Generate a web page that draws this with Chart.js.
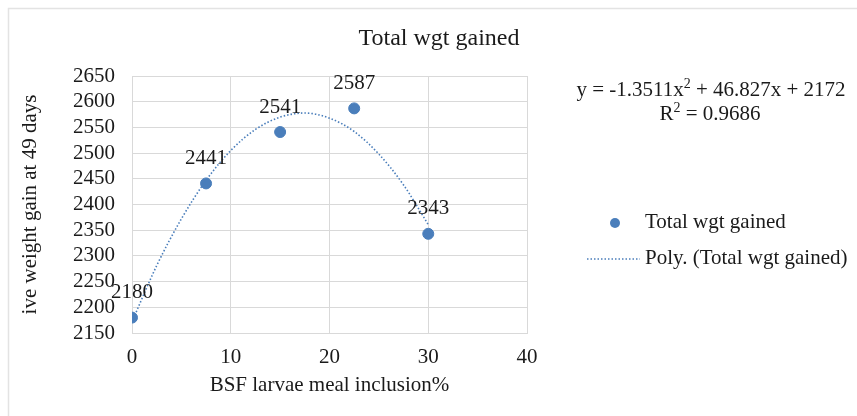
<!DOCTYPE html>
<html>
<head>
<meta charset="utf-8">
<script src="https://cdn.jsdelivr.net/npm/chart.js@4/dist/chart.umd.min.js"></script>
<style>
  html, body { margin: 0; padding: 0; background: #ffffff; }
  #wrap { width: 857px; height: 416px; position: relative; }
</style>
</head>
<body>
<div id="wrap"><canvas id="c" width="857" height="416"></canvas></div>
<script>
// ---- Data ----
const inclusionPct = [0, 7.5, 15, 22.5, 30];
const totalWgtGained = [2180, 2441, 2541, 2587, 2343];

// Polynomial trendline, values
const trendX = [0, 2.5, 5, 7.5, 10, 12.5, 15, 17.5, 20, 22.5, 25, 27.5, 30];
const trendY = [2172, 2281, 2372, 2447, 2505, 2546, 2570, 2578, 2568, 2542, 2498, 2438, 2361];

const xTicks = [0, 10, 20, 30, 40];
const yTicks = [2150, 2200, 2250, 2300, 2350, 2400, 2450, 2500, 2550, 2600, 2650];

const chartTitle = 'Total wgt gained';
const xTitle = 'BSF larvae meal inclusion%';
const yTitle = 'ive weight gain at 49 days';
const seriesName = 'Total wgt gained';
const trendName = 'Poly. (Total wgt gained)';
const eqParts = ['y = -1.3511x', '2', ' + 46.827x + 2172'];
const r2Parts = ['R', '2', ' = 0.9686'];

const FONT = '"Liberation Serif", "Times New Roman", serif';
const BLUE = '#4a7ebb';
const TEXT = '#1a1a1a';
const GRID = '#d9d9d9';

const pointData = inclusionPct.map((x, i) => ({ x, y: totalWgtGained[i] }));
const trendData = trendX.map((x, i) => ({ x, y: trendY[i] }));

const extrasPlugin = {
  id: 'extras',
  beforeDraw(chart) {
    const ctx = chart.ctx;
    ctx.save();
    ctx.strokeStyle = '#e3e3e3';
    ctx.lineWidth = 1.5;
    ctx.beginPath();
    ctx.moveTo(8.5, 416);
    ctx.lineTo(8.5, 8.5);
    ctx.lineTo(857, 8.5);
    ctx.stroke();
    ctx.restore();
  },
  afterDatasetsDraw(chart) {
    const ctx = chart.ctx;
    const meta = chart.getDatasetMeta(1);
    ctx.save();
    // chart title
    ctx.font = '24px ' + FONT;
    ctx.fillStyle = TEXT;
    ctx.textAlign = 'center';
    ctx.textBaseline = 'middle';
    ctx.fillText(chartTitle, 439, 39);

    // data labels
    ctx.font = '21px ' + FONT;
    meta.data.forEach((el, i) => {
      ctx.fillText(String(totalWgtGained[i]), el.x, el.y - 25);
    });

    // Equation
    const drawSup = (parts, cx, cy) => {
      ctx.textAlign = 'left';
      ctx.font = '21px ' + FONT;
      const w0 = ctx.measureText(parts[0]).width;
      const w2 = ctx.measureText(parts[2]).width;
      ctx.font = '14px ' + FONT;
      const w1 = ctx.measureText(parts[1]).width;
      let x = cx - (w0 + w1 + w2) / 2;
      ctx.font = '21px ' + FONT;
      ctx.fillText(parts[0], x, cy);
      x += w0;
      ctx.font = '14px ' + FONT;
      ctx.fillText(parts[1], x, cy - 6);
      x += w1;
      ctx.font = '21px ' + FONT;
      ctx.fillText(parts[2], x, cy);
    };
    drawSup(eqParts, 711, 90);
    drawSup(r2Parts, 710, 114);

    // Legend
    ctx.fillStyle = BLUE;
    ctx.beginPath();
    ctx.arc(615, 223, 5, 0, Math.PI * 2);
    ctx.fill();
    ctx.strokeStyle = BLUE;
    ctx.lineWidth = 1.5;
    ctx.setLineDash([1.5, 2]);
    ctx.beginPath();
    ctx.moveTo(587, 259);
    ctx.lineTo(640, 259);
    ctx.stroke();
    ctx.setLineDash([]);
    ctx.fillStyle = TEXT;
    ctx.font = '21px ' + FONT;
    ctx.textAlign = 'left';
    ctx.fillText(seriesName, 645, 222);
    ctx.fillText(trendName, 645, 258);
    ctx.restore();
  }
};

new Chart(document.getElementById('c'), {
  type: 'scatter',
  data: {
    datasets: [
      {
        label: trendName,
        data: trendData,
        showLine: true,
        borderColor: BLUE,
        borderWidth: 1.6,
        borderDash: [1.5, 2],
        pointRadius: 0,
        pointHoverRadius: 0,
        fill: false,
        cubicInterpolationMode: 'monotone'
      },
      {
        label: seriesName,
        data: pointData,
        backgroundColor: BLUE,
        borderColor: BLUE,
        pointRadius: 5.5,
        showLine: false
      }
    ]
  },
  options: {
    responsive: false,
    animation: false,
    devicePixelRatio: 1,
    layout: { padding: { left: 18, right: 330, top: 76, bottom: 0 } },
    plugins: {
      legend: { display: false },
      tooltip: { enabled: false },
      title: { display: false }
    },
    scales: {
      x: {
        type: 'linear',
        min: 0,
        max: 40,
        afterBuildTicks: s => { s.ticks = xTicks.map(v => ({ value: v })); },
        afterFit: s => { s.height = 83; },
        grid: { color: GRID, drawTicks: false, lineWidth: 1 },
        border: { color: GRID },
        ticks: { color: TEXT, font: { family: FONT, size: 21 }, padding: 12, maxRotation: 0, autoSkip: false, callback: v => String(v) },
        title: {
          display: true,
          text: xTitle,
          color: TEXT,
          font: { family: FONT, size: 21 },
          padding: { top: 0, bottom: 18.4 }
        }
      },
      y: {
        type: 'linear',
        min: 2150,
        max: 2650,
        afterBuildTicks: s => { s.ticks = yTicks.map(v => ({ value: v })); },
        afterFit: s => { s.width = 114; },
        grid: { color: GRID, drawTicks: false, lineWidth: 1 },
        border: { color: GRID },
        ticks: { color: TEXT, font: { family: FONT, size: 21 }, padding: 17, autoSkip: false, callback: v => String(v) },
        title: {
          display: true,
          text: yTitle,
          color: TEXT,
          font: { family: FONT, size: 21 },
          padding: { top: 0, bottom: 0 }
        }
      }
    }
  },
  plugins: [extrasPlugin]
});
</script>
</body>
</html>
